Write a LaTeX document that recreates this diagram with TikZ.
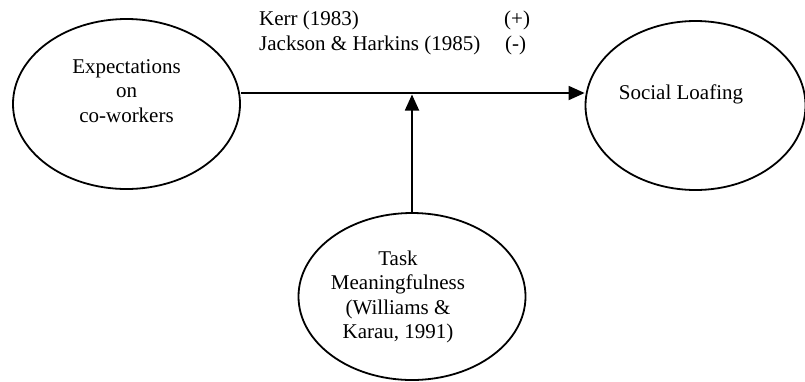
\documentclass[tikz,border=0pt]{standalone}
\usepackage{fontspec}
\setmainfont{Liberation Serif}
\usetikzlibrary{arrows.meta,shapes.geometric}
\begin{document}
\begin{tikzpicture}[x=1pt,y=-1pt,
  construct/.style={draw, ellipse, line width=1.8pt, inner sep=0pt},
  txt/.style={font=\fontsize{21}{24.5}\selectfont, inner sep=0pt, align=center},
  link/.style={line width=1.8pt, -{Triangle[length=16pt,width=14pt]}}]
\useasboundingbox (0,0) rectangle (805,381);

% constructs
\node[construct, minimum width=227pt, minimum height=170pt] (exp) at (126.5,104) {};
\node[construct, minimum width=220pt, minimum height=169pt] (loaf) at (695.5,105.5) {};
\node[construct, minimum width=227pt, minimum height=167pt] (task) at (412,296.5) {};

% construct labels
\node[txt] (expt) at (126.5,91) {Expectations\\on\\co-workers};
\node[txt, anchor=base] (loaft) at (681,99) {Social Loafing};
\node[txt] (taskt) at (398,297) {Task\\Meaningfulness\\(Williams \&\\Karau, 1991)};

% citations on the main path
\node[txt, anchor=base west] (kerr) at (259,25) {Kerr (1983)};
\node[txt, anchor=base west] (jh) at (259,50) {Jackson \& Harkins (1985)};
\node[txt, anchor=base west] (plus) at (504,25) {(+)};
\node[txt, anchor=base west] (minus) at (505,50) {(-)};

% connectors
\coordinate (hline) at (0,93);
\coordinate (join) at (412,94.5);
\draw[link] (exp.east |- hline) -- (loaf.west |- hline);
\draw[link] (task.north) -- (task.north |- join);
\end{tikzpicture}
\end{document}
